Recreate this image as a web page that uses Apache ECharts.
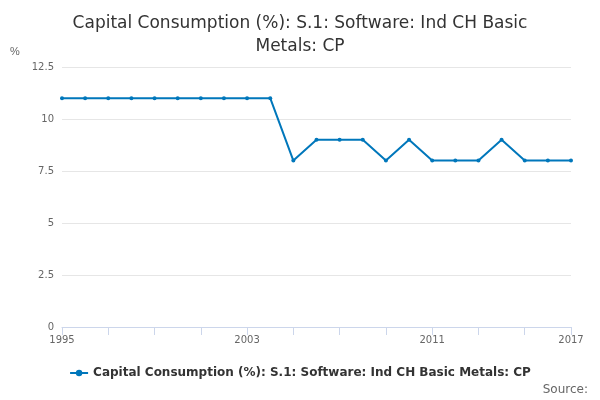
<!DOCTYPE html><html><head><meta charset="utf-8"><script src="https://cdn.jsdelivr.net/npm/echarts@6/dist/echarts.min.js"></script></head><body style="margin:0"><div id="c" style="width:600px;height:400px"></div><script>
const years=[];for(let y=1995;y<=2017;y++)years.push(String(y));
const values=[11,11,11,11,11,11,11,11,11,11,8,9,9,9,8,9,8,8,8,9,8,8,8];
const shownLabels=['1995','2003','2011','2017'];
const c=echarts.init(document.getElementById('c'));
c.setOption({
title:{text:'Capital Consumption (%): S.1: Software: Ind CH Basic\nMetals: CP',left:'center',top:7,textStyle:{fontFamily:'DejaVu Sans',fontSize:17,fontWeight:'normal',color:'#333',lineHeight:23}},
grid:{left:62,right:29,top:67,bottom:73},
xAxis:{type:'category',data:years,boundaryGap:false,axisLine:{lineStyle:{color:'#ccd6eb'}},axisTick:{interval:1,lineStyle:{color:'#ccd6eb'},length:8},
axisLabel:{interval:0,fontSize:10,color:'#666',fontFamily:'DejaVu Sans',formatter:v=>shownLabels.includes(v)?v:''}},
yAxis:{type:'value',min:0,max:12.5,interval:2.5,name:'%',nameLocation:'end',nameGap:10,nameTextStyle:{align:'left',padding:[0,0,0,-52],color:'#666',fontSize:11},axisLabel:{fontSize:10,color:'#666',fontFamily:'DejaVu Sans'},splitLine:{lineStyle:{color:'#e6e6e6'}}},
legend:{bottom:16,left:'center',itemWidth:18,itemHeight:8,textStyle:{fontFamily:'DejaVu Sans',fontSize:12,fontWeight:'bold',color:'#333'}},
graphic:[{type:'text',right:12,bottom:4,style:{text:'Source:',font:'12px DejaVu Sans',fill:'#666'}}],
series:[{name:'Capital Consumption (%): S.1: Software: Ind CH Basic Metals: CP',type:'line',data:values,color:'#0077bb',symbol:'circle',symbolSize:4,lineStyle:{width:2}}]
});
</script></body></html>
